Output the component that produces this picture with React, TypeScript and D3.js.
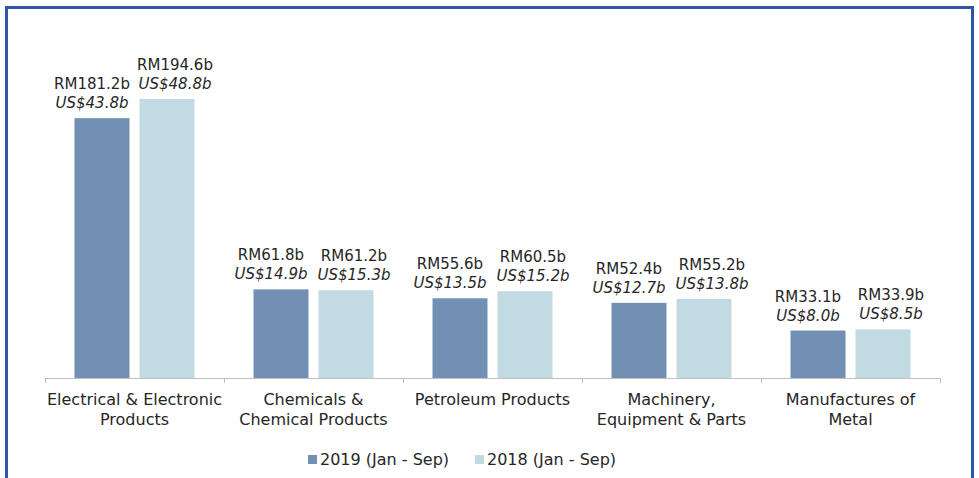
import React from "react";
import * as d3 from "d3";

const categories = [
  ["Electrical & Electronic", "Products"],
  ["Chemicals &", "Chemical Products"],
  ["Petroleum Products"],
  ["Machinery,", "Equipment & Parts"],
  ["Manufactures of", "Metal"],
];
const seriesNames = ["2019 (Jan - Sep)", "2018 (Jan - Sep)"];
const rm2019 = [181.2, 61.8, 55.6, 52.4, 33.1];
const rm2018 = [194.6, 61.2, 60.5, 55.2, 33.9];
const us2019 = [43.8, 14.9, 13.5, 12.7, 8.0];
const us2018 = [48.8, 15.3, 15.2, 13.8, 8.5];

const W = 979;
const H = 478;
const colors = ["#7290B4", "#C2DAE2"];
const FONT = "'DejaVu Sans', sans-serif";
const labelShift = [-10, 8];

export default function App() {
  const x0 = d3
    .scaleBand<number>()
    .domain(categories.map((_, i) => i))
    .range([45, 940]);
  const bw = x0.bandwidth();
  const inner = 120;
  const x1 = d3
    .scaleBand<number>()
    .domain([0, 1])
    .range([(bw - inner) / 2, (bw + inner) / 2])
    .paddingInner(10 / 65);
  const y = d3.scaleLinear().domain([0, 200]).range([378, 91.2]);
  const rm = [rm2019, rm2018];
  const us = [us2019, us2018];
  const ticks = [...categories.map((_, i) => x0(i)!), 940];

  return (
    <svg
      width={W}
      height={H}
      style={{ position: "absolute", left: 0, top: 0, background: "#fff" }}
      fontFamily={FONT}
    >
      <rect x={0} y={0} width={W} height={H} fill="#fff" />
      {/* frame */}
      <path d={`M6.5,${H + 5} V7.5 H972.5 V${H + 5}`} fill="none" stroke="#2F55A8" strokeWidth={3} />
      {/* bars */}
      {categories.map((_, i) =>
        [0, 1].map((s) => {
          const bx = x0(i)! + x1(s)!;
          const v = rm[s][i];
          const top = y(v);
          const cx = bx + x1.bandwidth() / 2 + labelShift[s];
          return (
            <g key={`${i}-${s}`}>
              <rect x={bx} y={top} width={x1.bandwidth()} height={y(0) - top} fill={colors[s]} />
              <text x={cx} y={top - 29} textAnchor="middle" fontSize={15} fill="#262626">
                {`RM${v.toFixed(1)}b`}
              </text>
              <text
                x={cx}
                y={top - 10}
                textAnchor="middle"
                fontSize={15}
                fontStyle="italic"
                fill="#262626"
              >{`US$${us[s][i].toFixed(1)}b`}</text>
            </g>
          );
        })
      )}
      {/* axis */}
      <line x1={45} x2={940} y1={378.5} y2={378.5} stroke="#BFBFBF" strokeWidth={1} />
      {ticks.map((t, i) => (
        <line key={i} x1={t + 0.5} x2={t + 0.5} y1={378} y2={383} stroke="#BFBFBF" />
      ))}
      {categories.map((lines, i) => (
        <text
          key={i}
          x={x0(i)! + bw / 2}
          y={405}
          textAnchor="middle"
          fontSize={16}
          fill="#262626"
        >
          {lines.map((l, j) => (
            <tspan key={j} x={x0(i)! + bw / 2} dy={j === 0 ? 0 : 20}>
              {l}
            </tspan>
          ))}
        </text>
      ))}
      {/* legend */}
      {seriesNames.map((n, s) => {
        const lx = s === 0 ? 308 : 475;
        return (
          <g key={n}>
            <rect x={lx} y={455} width={9} height={9} fill={colors[s]} />
            <text x={lx + 12} y={465} fontSize={16} fill="#262626">
              {n}
            </text>
          </g>
        );
      })}
    </svg>
  );
}
